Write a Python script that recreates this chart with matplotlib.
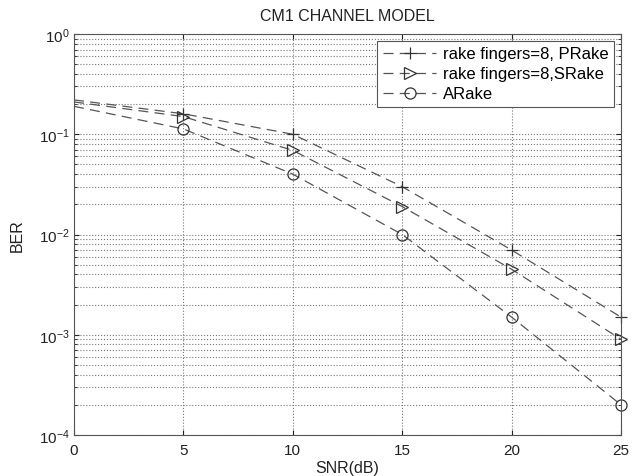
import matplotlib
matplotlib.use("Agg")
import matplotlib.pyplot as plt
from matplotlib.ticker import LogLocator, NullFormatter

plt.rcParams['font.family'] = ['Liberation Sans', 'DejaVu Sans']

snr = [0, 5, 10, 15, 20, 25]
ber_prake = [0.22, 0.16, 0.10, 0.030, 0.0070, 0.0015]
ber_srake = [0.21, 0.15, 0.069, 0.019, 0.0045, 0.0009]
ber_arake = [0.19, 0.113, 0.040, 0.010, 0.0015, 0.0002]
labels = ['rake fingers=8, PRake', 'rake fingers=8,SRake', 'ARake']

fig = plt.figure(figsize=(6.4, 4.77), dpi=100)
ax = fig.add_axes([74 / 640, 1 - 436 / 477, (621 - 74) / 640, (436 - 35) / 477])

lc = '#555555'
mk = dict(markevery=[1, 2, 3, 4, 5], clip_on=False, mec='#333333', mew=0.9)
ax.semilogy(snr, ber_prake, linestyle=(0, (8, 5)), color=lc, lw=0.9,
            marker='+', ms=8, label=labels[0], **mk)
ax.semilogy(snr, ber_srake, linestyle=(0, (8, 5)), color=lc, lw=0.9,
            marker='>', ms=8, mfc='none', label=labels[1], **mk)
ax.semilogy(snr, ber_arake, linestyle=(0, (8, 5)), color=lc, lw=0.9,
            marker='o', ms=8, mfc='none', label=labels[2], **mk)

ax.set_xlim(0, 25)
ax.set_ylim(1e-4, 1)
ax.set_xticks(snr)
ax.yaxis.set_major_locator(LogLocator(base=10, numticks=10))
ax.yaxis.set_minor_locator(LogLocator(base=10, subs=range(2, 10), numticks=10))
ax.yaxis.set_minor_formatter(NullFormatter())
ax.grid(True, which='major', linestyle=':', color='#777777', lw=0.8)
ax.grid(True, which='minor', axis='y', linestyle=':', color='#777777', lw=0.8)
ax.tick_params(which='both', direction='in', labelsize=11, colors='#222222',
               top=True, right=True)
ax.tick_params(which='minor', length=2)
ax.tick_params(axis='x', pad=6)
ax.tick_params(axis='y', pad=3)
for s in ax.spines.values():
    s.set_color('#555555')

ax.set_title('CM1 CHANNEL MODEL', fontsize=11.5, color='#222222', pad=10)
ax.set_xlabel('SNR(dB)', fontsize=11.5, color='#222222', labelpad=2)
ax.set_ylabel('BER', fontsize=11.5, color='#222222', labelpad=10)

leg = ax.legend(loc='upper right', fontsize=12, handlelength=3.2, fancybox=False,
                framealpha=1, edgecolor='#555555', borderaxespad=0.4,
                labelspacing=0.3, borderpad=0.35, handletextpad=0.4)
leg.get_frame().set_linewidth(0.8)

fig.savefig('out.png', dpi=100)
